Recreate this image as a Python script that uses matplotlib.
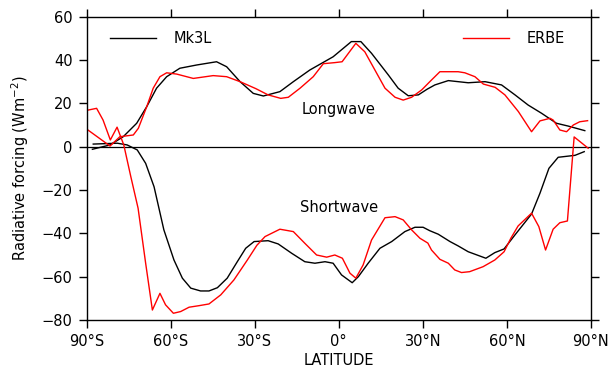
import matplotlib
matplotlib.use("Agg")
import matplotlib.pyplot as plt
from matplotlib.lines import Line2D

# ---------------------------------------------------------------------------
# Data (latitude in degrees, forcing in W m-2)
# ---------------------------------------------------------------------------
lw_mk3l_lat = [-87.9, -81.6, -76.9, -72.1, -68.5, -65.0, -61.4, -56.7, -50.7,
               -43.6, -40.0, -35.2, -30.5, -26.9, -21.0, -16.2, -10.3, -2.0,
               4.5, 7.9, 11.7, 17.7, 21.2, 24.8, 28.4, 31.5, 34.3, 39.1, 46.2,
               52.2, 58.1, 62.9, 67.6, 72.4, 77.7, 81.9, 87.8]
lw_mk3l_val = [-1.2, 0.8, 4.6, 10.8, 18.5, 27.0, 32.3, 36.2, 37.7,
               39.2, 36.9, 30.0, 24.6, 23.4, 25.4, 30.0, 35.4, 41.5,
               48.5, 48.5, 43.1, 33.1, 27.0, 23.5, 23.9, 26.5, 28.5, 30.5, 29.5,
               30.0, 28.5, 23.9, 19.2, 15.4, 10.8, 9.5, 7.4]

lw_erbe_lat = [-89.5, -81.6, -78.1, -73.3, -71.5, -68.5, -66.2, -63.8, -61.4,
               -57.8, -51.9, -44.8, -40.0, -35.2, -29.6, -25.2, -20.7, -18.0,
               -13.8, -9.1, -5.5, -1.4, 1.2, 6.1, 9.3, 12.9, 16.5, 20.1, 23.0,
               26.0, 29.6, 32.5, 36.1, 42.6, 45.0, 48.6, 51.6, 55.8, 59.3, 64.1,
               68.8, 71.8, 75.4, 76.5, 78.9, 81.3, 83.7, 86.0, 88.8]
lw_erbe_val = [7.7, 0.3, 4.6, 5.4, 8.5, 18.5, 27.0, 32.3, 34.1,
               33.5, 31.5, 32.8, 32.3, 30.0, 26.8, 23.9, 22.3, 22.8,
               27.0, 32.3, 38.3, 38.8, 39.2, 47.7, 43.8, 35.4, 27.0, 22.8, 21.5,
               22.8, 26.2, 30.0, 34.6, 34.6, 34.1, 32.3, 28.9, 27.4, 23.9, 16.2,
               6.9, 11.9, 13.1, 12.3, 7.7, 6.9, 10.0, 11.5, 12.0]

sw_mk3l_lat = [-87.6, -79.0, -75.5, -71.9, -68.9, -65.9, -62.4, -58.8, -55.8,
               -52.8, -49.3, -46.3, -43.3, -39.8, -36.2, -33.2, -30.2, -25.2,
               -21.6, -16.8, -12.1, -8.5, -4.9, -2.0, 1.0, 4.8, 7.0, 10.5, 14.7,
               18.9, 23.6, 27.2, 30.1, 32.5, 35.5, 39.7, 42.6, 46.2, 52.5, 55.7,
               59.0, 62.9, 68.8, 71.8, 75.0, 78.3, 84.3, 87.6]
sw_mk3l_val = [1.2, 1.6, 0.8, -1.5, -7.7, -18.5, -38.4, -52.3, -60.7,
               -65.3, -66.6, -66.6, -65.1, -60.7, -53.1, -46.9, -43.8, -43.4,
               -44.9, -49.2, -53.1, -53.8, -53.1, -53.8, -59.2, -62.8, -60.0,
               -53.8, -46.9, -43.8, -39.2, -37.2, -37.2, -38.8, -40.4, -43.8,
               -45.8, -48.5, -51.5, -48.9, -47.2, -40.7, -31.1, -21.5, -10.0,
               -4.9, -4.0, -2.3]

sw_erbe_lat = [-89.4, -86.4, -84.1, -81.5, -79.1, -76.7, -74.2, -71.6, -68.9,
               -66.5, -63.8, -61.8, -59.0, -56.4, -53.4, -49.9, -46.3, -42.1,
               -37.4, -32.6, -29.2, -26.3, -21.0, -16.2, -12.1, -7.9, -4.3,
               -1.4, 1.3, 4.0, 6.1, 8.7, 11.7, 16.5, 20.1, 23.0, 26.0, 29.0,
               31.8, 33.1, 36.1, 39.1, 41.4, 43.8, 46.7, 51.5, 55.7, 59.0, 61.4,
               64.0, 68.8, 71.4, 73.8, 76.5, 78.9, 81.6, 84.0, 89.0]
sw_erbe_val = [16.9, 17.7, 12.3, 3.1, 9.0, 0.8, -13.8, -28.4, -53.8,
               -75.4, -67.7, -73.0, -76.9, -76.1, -74.1, -73.4, -72.6, -68.4,
               -61.5, -52.3, -45.5, -41.5, -38.1, -39.2, -44.6, -50.0, -51.0,
               -50.0, -51.5, -58.4, -60.7, -54.6, -43.1, -32.8, -32.3, -33.8,
               -38.4, -42.3, -44.5, -47.7, -52.0, -53.8, -56.9, -58.1, -57.7,
               -55.4, -52.3, -48.5, -42.3, -36.6, -30.7, -36.9, -47.7, -38.1,
               -35.1, -34.3, 4.5, -0.7]

xticks = [-90, -60, -30, 0, 30, 60, 90]
xticklabels = ["90°S", "60°S", "30°S", "0°", "30°N", "60°N", "90°N"]
yticks = [-80, -60, -40, -20, 0, 20, 40, 60]

# ---------------------------------------------------------------------------
# Plot
# ---------------------------------------------------------------------------
plt.rcParams["font.family"] = "DejaVu Sans"
fig = plt.figure(figsize=(6.11, 3.75), dpi=100)
ax = fig.add_axes([0.1416, 0.1467, 0.8256, 0.8088])

lw = 1.0
ax.axhline(0, color="black", linewidth=0.9)
ax.plot(lw_mk3l_lat, lw_mk3l_val, color="black", linewidth=lw)
ax.plot(sw_mk3l_lat, sw_mk3l_val, color="black", linewidth=lw)
ax.plot(lw_erbe_lat, lw_erbe_val, color="red", linewidth=lw)
ax.plot(sw_erbe_lat, sw_erbe_val, color="red", linewidth=lw)

ax.set_xlim(-90, 90)
ax.set_ylim(-80, 60)
ax.set_xticks(xticks)
ax.set_xticklabels(xticklabels)
ax.set_yticks(yticks)
ax.set_yticklabels([str(v).replace("-", "\u2212") for v in yticks])
ax.tick_params(direction="out", length=6, width=1.0, labelsize=10.5,
               top=True, right=True, pad=4)
for sp in ax.spines.values():
    sp.set_linewidth(1.0)

ax.set_xlabel("LATITUDE", fontsize=10.5, labelpad=3)
ax.set_ylabel("Radiative forcing (Wm$^{-2}$)", fontsize=10.5, labelpad=8)

ax.text(0, 17, "Longwave", ha="center", va="center", fontsize=10.5)
ax.text(0, -28, "Shortwave", ha="center", va="center", fontsize=10.5)

# legends: model top-left, observations top-right
leg1 = ax.legend([Line2D([], [], color="black", linewidth=lw)], ["Mk3L"],
                 loc="upper left", frameon=False, fontsize=10.5,
                 handlelength=3.2, handletextpad=1.2,
                 bbox_to_anchor=(0.02, 0.995))
ax.add_artist(leg1)
ax.legend([Line2D([], [], color="red", linewidth=lw)], ["ERBE"],
          loc="upper right", frameon=False, fontsize=10.5,
          handlelength=3.2, handletextpad=1.2,
          bbox_to_anchor=(0.975, 0.995))

fig.savefig("out.png", dpi=100)
